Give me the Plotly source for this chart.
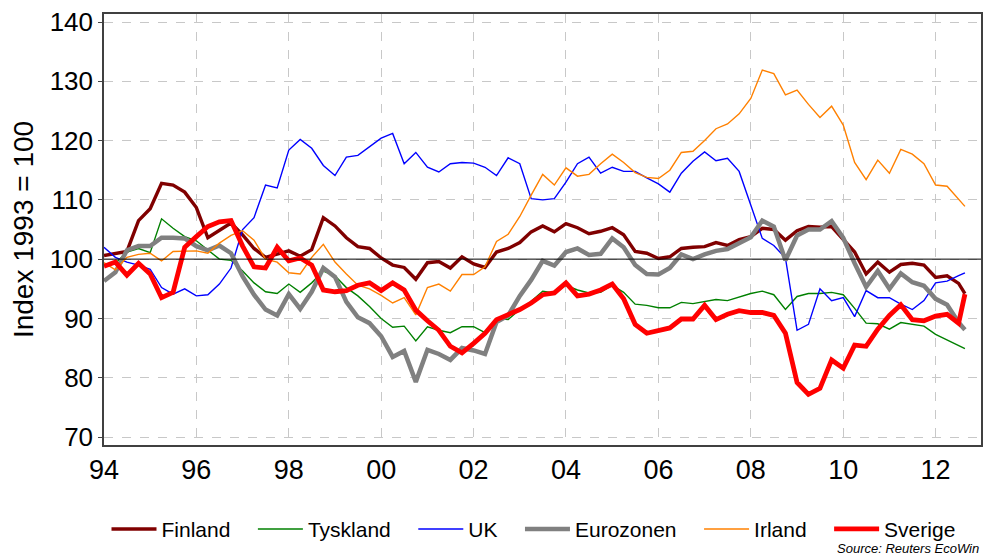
import pandas as pd
import plotly.graph_objects as go

# kvartalsdata, index 1993 = 100 (sista punkten = aug 2012)
datum = list(pd.date_range('1994-01-01', '2012-07-01', freq='QS').strftime('%Y-%m-%d')) + ['2012-08-20']

finland = [
    100.6, 101.0, 101.3, 106.5, 108.5, 112.8, 112.5, 111.3, 108.7, 103.6, 104.8, 106.1,
    104.1, 101.8, 100.3, 100.8, 101.4, 100.5, 101.6, 107.0, 105.6, 103.6, 102.1, 101.8,
    100.2, 99.0, 98.6, 96.6, 99.4, 99.6, 98.5, 100.4, 99.2, 98.6, 101.2, 101.8,
    102.8, 104.6, 105.6, 104.6, 106.0, 105.3, 104.3, 104.7, 105.3, 104.1, 101.3, 101.0,
    100.1, 100.4, 101.8, 102.0, 102.1, 102.8, 102.3, 103.3, 103.8, 105.2, 105.0, 103.2,
    104.8, 105.5, 105.4, 105.5, 103.3, 101.2, 97.5, 99.5, 97.8, 99.1, 99.3, 99.0,
    96.9, 97.2, 95.9, 94.2,
]
tyskland = [
    99.0, 99.3, 101.2, 101.8, 101.1, 106.8, 105.2, 103.8, 103.1, 101.5, 100.0, 99.8,
    98.0, 96.0, 94.5, 94.2, 95.8, 94.4, 96.0, 98.0, 97.2, 95.2, 93.8, 92.0,
    90.0, 88.5, 88.7, 86.2, 88.6, 88.0, 87.6, 88.6, 88.6, 87.6, 90.0, 89.8,
    91.5, 92.9, 94.6, 94.3, 95.6, 94.8, 94.3, 94.4, 95.6, 94.4, 92.4, 92.2,
    91.8, 91.8, 92.7, 92.5, 92.9, 93.2, 93.0, 93.6, 94.2, 94.6, 94.0, 91.5,
    93.7, 94.2, 94.2, 94.4, 94.0, 91.7, 89.2, 89.1, 88.2, 89.3, 89.0, 88.7,
    87.3, 86.4, 85.5, 84.9,
]
uk = [
    102.0, 100.3, 99.5, 99.0, 98.3, 95.2, 94.1, 95.0, 93.8, 94.0, 95.8, 98.5,
    105.0, 107.0, 112.5, 112.0, 118.4, 120.2, 118.7, 115.8, 114.1, 117.2, 117.5, 119.0,
    120.4, 121.2, 116.1, 118.0, 115.5, 114.7, 116.1, 116.3, 116.2, 115.5, 114.1, 117.1,
    116.1, 110.2, 110.0, 110.2, 113.0, 116.1, 117.2, 114.5, 115.5, 114.8, 114.8, 113.7,
    112.7, 111.3, 114.5, 116.5, 118.1, 116.6, 117.0, 114.8, 109.0, 103.5, 102.3, 100.2,
    88.0, 89.0, 95.0, 93.0, 93.5, 90.3, 94.7, 93.5, 93.5, 92.4, 91.5, 93.0,
    96.0, 96.3, 97.2, 97.7,
]
eurozonen = [
    96.3, 97.8, 101.5, 102.2, 102.2, 103.6, 103.6, 103.5, 102.2, 101.5, 102.3, 101.0,
    97.1, 94.0, 91.5, 90.5, 94.1, 91.6, 94.5, 98.5, 97.0, 92.8, 90.2, 89.2,
    87.0, 83.5, 84.5, 79.3, 84.7, 84.0, 83.0, 85.0, 84.6, 84.0, 89.4, 90.5,
    93.8, 96.5, 99.7, 98.9, 101.2, 101.8, 100.7, 100.9, 103.5, 102.0, 99.0, 97.5,
    97.4, 98.5, 100.8, 100.0, 100.8, 101.4, 101.7, 102.6, 103.7, 106.5, 105.5, 99.8,
    104.0, 105.0, 105.0, 106.4, 103.6, 99.3, 95.3, 98.0, 95.0, 97.6, 96.1, 95.5,
    93.3, 92.3, 89.3, 88.1,
]
irland = [
    99.4, 98.2, 100.3, 100.8, 101.0, 99.7, 101.3, 101.3, 101.4, 101.0, 102.7, 104.0,
    104.8, 103.2, 100.0, 99.5, 97.7, 97.5, 100.3, 102.5, 99.5, 97.5, 95.6, 95.0,
    93.9, 92.6, 93.5, 90.6, 95.2, 95.8, 94.6, 97.4, 97.4, 98.7, 103.0, 104.2,
    107.2, 110.8, 114.3, 112.5, 115.4, 114.0, 114.3, 116.1, 117.7, 116.3, 114.6, 113.8,
    113.6, 115.0, 118.0, 118.2, 120.0, 122.0, 122.8, 124.5, 127.1, 131.9, 131.3, 127.7,
    128.5, 126.1, 123.9, 125.8, 122.6, 116.3, 113.4, 116.7, 114.5, 118.5, 117.7, 116.1,
    112.5, 112.3, 110.2, 108.9,
]
sverige = [
    98.8, 99.5, 97.3, 99.3, 97.5, 93.5, 94.4, 102.0, 103.8, 105.5, 106.3, 106.5,
    102.2, 98.7, 98.5, 102.0, 99.7, 100.2, 99.0, 94.8, 94.5, 94.7, 95.6, 96.0,
    94.7, 96.0, 94.8, 91.4, 89.6, 88.0, 85.3, 84.2, 85.8, 87.5, 89.8, 90.6,
    91.5, 92.6, 94.0, 94.3, 96.0, 93.8, 94.1, 94.8, 95.8, 93.3, 89.0, 87.5,
    88.0, 88.4, 89.9, 89.9, 92.2, 89.8, 90.7, 91.3, 91.0, 91.0, 90.5, 87.5,
    79.2, 77.2, 78.2, 83.0, 81.6, 85.5, 85.3, 88.2, 90.5, 92.3, 89.8, 89.6,
    90.4, 90.7, 89.2, 94.1,
]

serier = [
    ('Finland', finland, '#800000', 3.4),
    ('Tyskland', tyskland, '#008000', 1.4),
    ('UK', uk, '#0000ff', 1.4),
    ('Eurozonen', eurozonen, '#808080', 4.5),
    ('Irland', irland, '#ff8000', 1.4),
    ('Sverige', sverige, '#ff0000', 4.8),
]

FONT = 'Liberation Sans, Arial'
PAD = '\u00a0' * 3

fig = go.Figure()
for namn, varden, farg, bredd in serier:
    fig.add_trace(go.Scatter(x=datum, y=varden, name=namn + PAD, mode='lines',
                             line=dict(color=farg, width=bredd)))

fig.add_hline(y=100, line=dict(color='black', width=1))

fig.update_layout(
    width=985, height=555,
    margin=dict(l=104, r=2, t=14, b=110),
    paper_bgcolor='white', plot_bgcolor='white',
    font=dict(family=FONT, color='black', size=20),
    legend=dict(orientation='h', x=0.5, xanchor='center', y=-0.148, yanchor='top',
                font=dict(size=21), itemwidth=45),
    annotations=[dict(text='<i>Source: Reuters EcoWin</i>', x=1, xref='paper', xanchor='right',
                      y=-0.241, yref='paper', yanchor='middle', showarrow=False,
                      font=dict(size=13, family=FONT))],
)
fig.update_xaxes(
    type='date', range=['1994-01-01', '2012-12-25'],
    tick0='1994-01-01', dtick='M24', tickformat='%y',
    tickfont=dict(size=27), ticks='', ticklabelstandoff=0,
    showgrid=True, gridcolor='#c8c8c8', griddash='dash', gridwidth=1,
    showline=True, linecolor='#404040', linewidth=1.5, mirror=True,
)
fig.update_yaxes(
    range=[68.65, 141.35], tickvals=[70, 80, 90, 100, 110, 120, 130, 140],
    tickfont=dict(size=26), ticks='outside', ticklen=4,
    title=dict(text='Index 1993 = 100', font=dict(size=28), standoff=8),
    showgrid=True, gridcolor='#c8c8c8', griddash='dash', gridwidth=1,
    showline=True, linecolor='#404040', linewidth=1.5, mirror=True,
    zeroline=False,
)

fig.write_html('out.html', config={'displayModeBar': False},
               post_script="document.body.style.margin='0';")
